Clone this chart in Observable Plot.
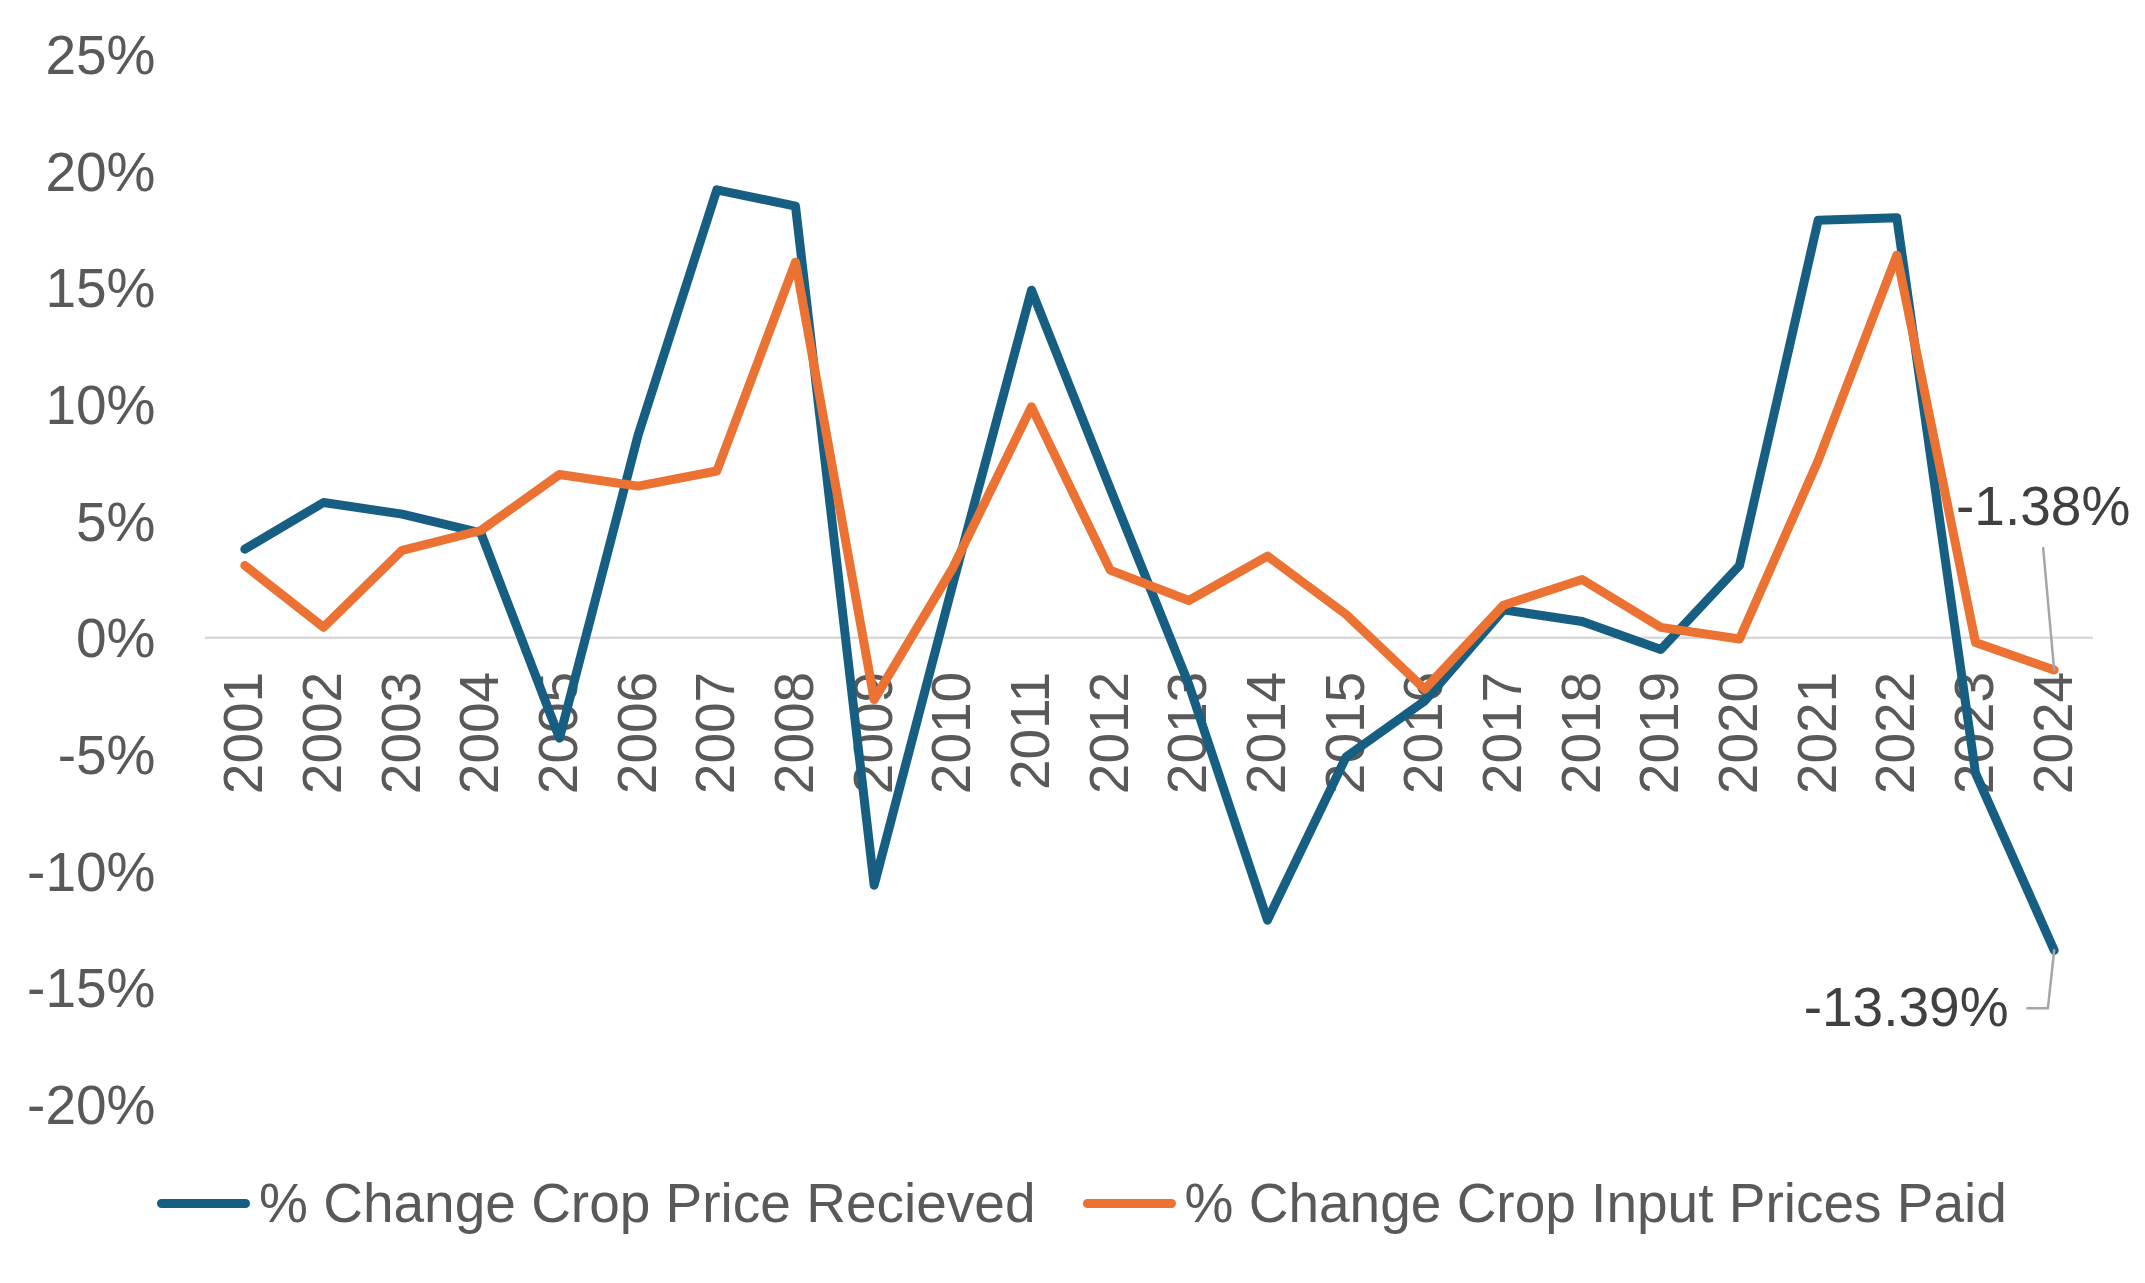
<!DOCTYPE html>
<html>
<head>
<meta charset="utf-8">
<script src="https://cdn.jsdelivr.net/npm/d3@7"></script>
<script src="https://cdn.jsdelivr.net/npm/@observablehq/plot@0.6"></script>
<style>
  body { margin: 0; background: #fff; font-family: "Liberation Sans", Arial, sans-serif; }
  #chart { width: 2145px; }
  .legend { display: flex; align-items: center; margin-top: 21px; padding-left: 157px;
            font-size: 55px; color: #595959; line-height: 64px; white-space: nowrap; }
  .item { display: flex; align-items: center; margin-right: 47px; }
  .sw { width: 93px; height: 9px; border-radius: 5px; margin-right: 9px; }
</style>
</head>
<body>
<div id="chart"></div>
<script>
// ---- data ----
const years = [2001, 2002, 2003, 2004, 2005, 2006, 2007, 2008, 2009, 2010, 2011, 2012,
               2013, 2014, 2015, 2016, 2017, 2018, 2019, 2020, 2021, 2022, 2023, 2024];
const priceReceived = [3.8, 5.8, 5.3, 4.5, -4.3, 8.7, 19.2, 18.5, -10.6, 2.3, 14.9, 6.4,
                       -2.0, -12.1, -5.1, -2.7, 1.2, 0.7, -0.5, 3.1, 17.9, 18.0, -5.8, -13.39];
const inputPricesPaid = [3.1, 0.45, 3.75, 4.6, 7.0, 6.5, 7.15, 16.1, -2.65, 3.0, 9.9, 2.9,
                         1.6, 3.5, 1.0, -2.2, 1.4, 2.5, 0.45, -0.05, 7.6, 16.4, -0.2, -1.38];
const yTicks = [-20, -15, -10, -5, 0, 5, 10, 15, 20, 25];
const seriesNames = ["% Change Crop Price Recieved", "% Change Crop Input Prices Paid"];
const seriesColors = ["#165F83", "#EB7232"];

// ---- tables ----
const received = years.map((year, i) => ({year, value: priceReceived[i]}));
const paid = years.map((year, i) => ({year, value: inputPricesPaid[i]}));
const last = years.length - 1;

// data-label callouts (leader paths expressed in x/y data units)
const calloutPaid = {
  text: inputPricesPaid[last].toFixed(2) + "%",
  x: years[last] - 0.14, y: 5.6,
  leader: [[years[last], inputPricesPaid[last]], [years[last] - 0.14, 3.85]]
};
const calloutReceived = {
  text: priceReceived[last].toFixed(2) + "%",
  x: years[last] - 0.58, y: -15.9,
  leader: [[years[last], priceReceived[last]], [years[last] - 0.08, -15.88], [years[last] - 0.34, -15.88]]
};

const font = "'Liberation Sans', Arial, sans-serif";

const chart = Plot.plot({
  width: 2145,
  height: 1150,
  marginTop: 54,
  marginBottom: 46,
  marginLeft: 205,
  marginRight: 52,
  style: {fontFamily: font, background: "#fff"},
  x: {type: "linear", domain: [years[0] - 0.5, years[last] + 0.5], axis: null},
  y: {domain: [-20, 25]},
  marks: [
    Plot.axisY(yTicks, {tickFormat: d => d + "%", tickSize: 0, tickPadding: 50, dy: 2,
                        fontSize: 55, fill: "#595959", label: null}),
    Plot.ruleY([0], {stroke: "#d9d9d9", strokeWidth: 2.5}),
    Plot.text(years, {x: d => d, y: () => 0, text: d => String(d), rotate: -90,
                      textAnchor: "end", lineAnchor: "middle", dy: 34,
                      fontSize: 55, fill: "#595959"}),
    Plot.line(received, {x: "year", y: "value", stroke: seriesColors[0], strokeWidth: 9,
                         strokeLinejoin: "round", strokeLinecap: "round"}),
    Plot.line(paid, {x: "year", y: "value", stroke: seriesColors[1], strokeWidth: 9,
                     strokeLinejoin: "round", strokeLinecap: "round"}),
    Plot.line(calloutPaid.leader, {x: d => d[0], y: d => d[1], stroke: "#a6a6a6", strokeWidth: 2.5}),
    Plot.line(calloutReceived.leader, {x: d => d[0], y: d => d[1], stroke: "#a6a6a6", strokeWidth: 2.5}),
    Plot.text([calloutPaid], {x: "x", y: "y", text: "text", textAnchor: "middle",
                              lineAnchor: "middle", fontSize: 55, fill: "#404040"}),
    Plot.text([calloutReceived], {x: "x", y: "y", text: "text", textAnchor: "end",
                                  lineAnchor: "middle", fontSize: 55, fill: "#404040"})
  ]
});
document.getElementById("chart").appendChild(chart);

// ---- legend ----
const legend = document.createElement("div");
legend.className = "legend";
seriesNames.forEach((name, i) => {
  const item = document.createElement("div");
  item.className = "item";
  const sw = document.createElement("span");
  sw.className = "sw";
  sw.style.background = seriesColors[i];
  const label = document.createElement("span");
  label.textContent = name;
  item.appendChild(sw);
  item.appendChild(label);
  legend.appendChild(item);
});
document.getElementById("chart").appendChild(legend);
</script>
</body>
</html>
